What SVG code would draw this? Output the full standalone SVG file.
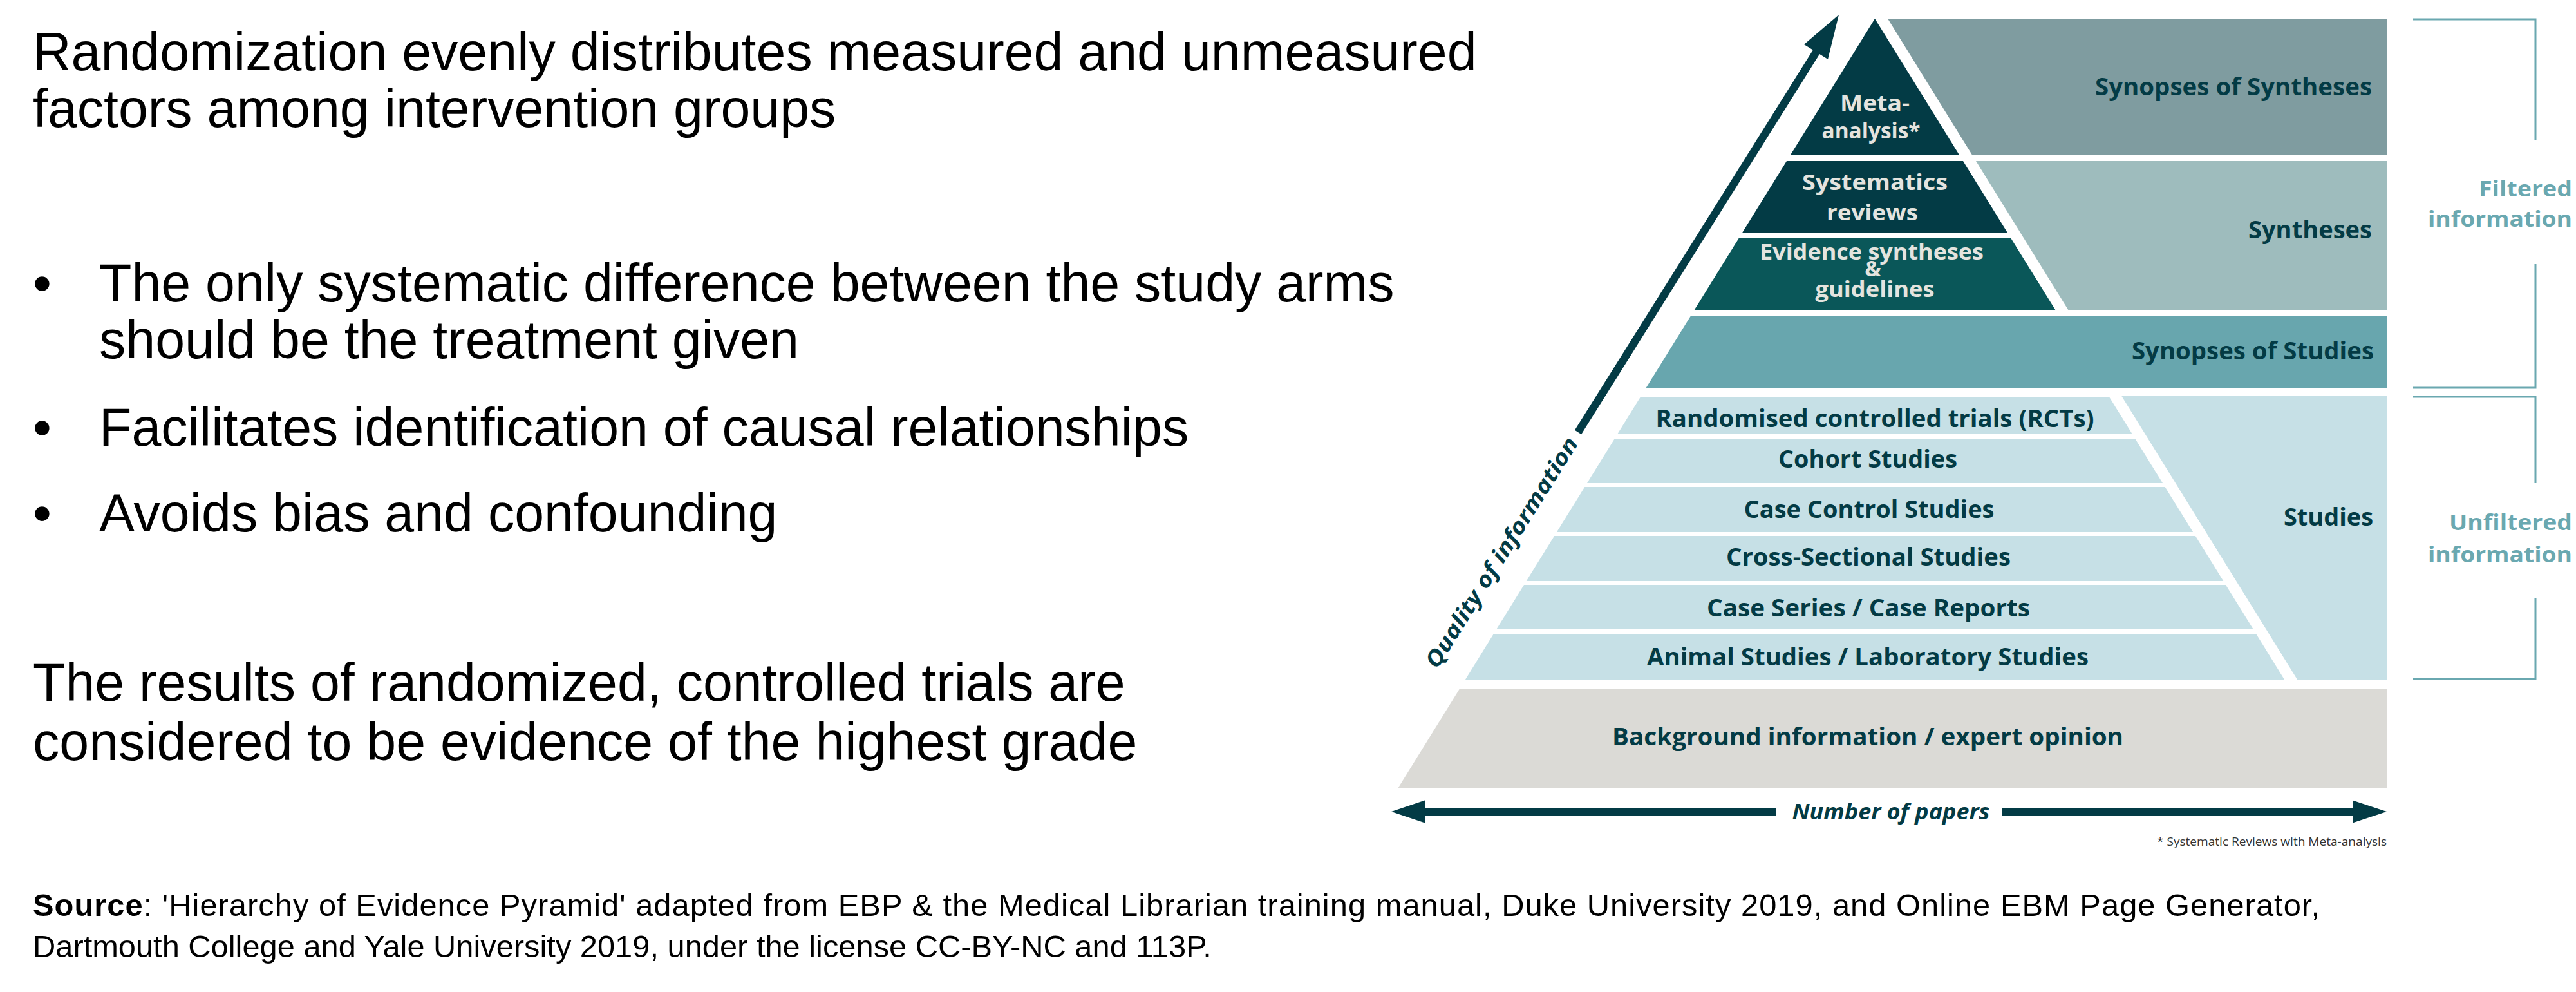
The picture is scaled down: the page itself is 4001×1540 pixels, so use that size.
<svg xmlns="http://www.w3.org/2000/svg" width="4001" height="1540" viewBox="0 0 4001 1540">
  <style>
    .body { font-family: "Liberation Sans", Arial, sans-serif; font-size: 82.5px; fill: #000; }
    .src { font-family: "Liberation Sans", Arial, sans-serif; font-size: 48.8px; fill: #000; }
    .lbl { font-family: "Open Sans", "Noto Sans", sans-serif; font-weight: 700; font-size: 37px; fill: #033b45; }
    .lbl-lt { font-family: "Open Sans", "Noto Sans", sans-serif; font-weight: 700; font-size: 34px; fill: #e4e4df; text-anchor: middle; }
    .side { font-family: "Open Sans", "Noto Sans", sans-serif; font-weight: 700; font-size: 34px; fill: #6aa8b0; text-anchor: end; }
    .axis { font-family: "Open Sans", "Noto Sans", sans-serif; font-weight: 700; font-style: italic; fill: #033b45; }
    .mid { text-anchor: middle; }
    .end { text-anchor: end; }
    .bracket { fill: none; stroke: #6aa8b0; stroke-width: 3; }
    .dark { fill: #033b45; }
  </style>

  <!-- Left-hand explanatory text -->
  <g id="intro">
    <text class="body" x="51" y="109">Randomization evenly distributes measured and unmeasured</text>
    <text class="body" x="51" y="197">factors among intervention groups</text>
  </g>
  <g id="bullets">
    <text class="body" x="51" y="468">•</text>
    <text class="body" x="154" y="468">The only systematic difference between the study arms</text>
    <text class="body" x="154" y="556">should be the treatment given</text>
    <text class="body" x="51" y="692">•</text>
    <text class="body" x="154" y="692">Facilitates identification of causal relationships</text>
    <text class="body" x="51" y="825">•</text>
    <text class="body" x="154" y="825">Avoids bias and confounding</text>
  </g>
  <g id="conclusion">
    <text class="body" x="51" y="1088">The results of randomized, controlled trials are</text>
    <text class="body" x="51" y="1180">considered to be evidence of the highest grade</text>
  </g>
  <g id="source">
    <text class="src" x="51" y="1422" textLength="3552" lengthAdjust="spacing"><tspan font-weight="700">Source</tspan>: 'Hierarchy of Evidence Pyramid' adapted from EBP &amp; the Medical Librarian training manual, Duke University 2019, and Online EBM Page Generator,</text>
    <text class="src" x="51" y="1486">Dartmouth College and Yale University 2019, under the license CC-BY-NC and 113P.</text>
  </g>

  <!-- Pyramid: filtered tiers -->
  <g id="meta-analysis">
    <polygon class="dark" points="2912,29 3043.4,241 2780.6,241"/>
    <text class="lbl-lt" x="2912" y="172" textLength="108" lengthAdjust="spacingAndGlyphs">Meta-</text>
    <text class="lbl-lt" x="2906" y="215" textLength="153" lengthAdjust="spacingAndGlyphs">analysis*</text>
  </g>
  <g id="synopses-of-syntheses">
    <polygon fill="#7f9ca0" points="2932,29 3707,29 3707,241 3063.4,241"/>
    <text class="lbl end" x="3684" y="148" textLength="430" lengthAdjust="spacingAndGlyphs" font-size="38">Synopses of Syntheses</text>
  </g>
  <g id="systematic-reviews">
    <polygon class="dark" points="2775,250 3049,250 3117.8,361 2706.2,361"/>
    <text class="lbl-lt" x="2912" y="295" textLength="226" lengthAdjust="spacingAndGlyphs">Systematics</text>
    <text class="lbl-lt" x="2908" y="342" textLength="142" lengthAdjust="spacingAndGlyphs">reviews</text>
  </g>
  <g id="evidence-syntheses">
    <polygon fill="#0a5759" points="2700.6,370 3123.4,370 3192.9,482 2631.1,482"/>
    <text class="lbl-lt" x="2907" y="403" textLength="348" lengthAdjust="spacingAndGlyphs">Evidence syntheses</text>
    <text class="lbl-lt" x="2909" y="429" font-size="19">&amp;</text>
    <text class="lbl-lt" x="2912" y="461" textLength="185" lengthAdjust="spacingAndGlyphs">guidelines</text>
  </g>
  <g id="syntheses">
    <polygon fill="#9ebcbd" points="3069,250 3707,250 3707,482 3212.9,482"/>
    <text class="lbl end" x="3684" y="370" textLength="192" lengthAdjust="spacingAndGlyphs" font-size="38">Syntheses</text>
  </g>
  <g id="synopses-of-studies">
    <polygon fill="#68a6ae" points="2625.6,491 3707,491 3707,602 2556.7,602"/>
    <text class="lbl end" x="3687" y="558" textLength="376" lengthAdjust="spacingAndGlyphs" font-size="38">Synopses of Studies</text>
  </g>

  <!-- Pyramid: unfiltered tiers -->
  <g id="rcts">
    <polygon fill="#c6e0e6" points="2548.1,616 3275.9,616 3311.9,674 2512.1,674"/>
    <text class="lbl mid" x="2912" y="663" textLength="681" lengthAdjust="spacingAndGlyphs">Randomised controlled trials (RCTs)</text>
  </g>
  <g id="cohort">
    <polygon fill="#c6e0e6" points="2507.8,681 3316.2,681 3359,750 2465,750"/>
    <text class="lbl mid" x="2901" y="726" textLength="278" lengthAdjust="spacingAndGlyphs">Cohort Studies</text>
  </g>
  <g id="case-control">
    <polygon fill="#c6e0e6" points="2461.3,756 3362.7,756 3406.1,826 2417.9,826"/>
    <text class="lbl mid" x="2903" y="804" textLength="389" lengthAdjust="spacingAndGlyphs">Case Control Studies</text>
  </g>
  <g id="cross-sectional">
    <polygon fill="#c6e0e6" points="2414.1,832 3409.9,832 3453.3,902 2370.7,902"/>
    <text class="lbl mid" x="2902" y="878" textLength="442" lengthAdjust="spacingAndGlyphs">Cross-Sectional Studies</text>
  </g>
  <g id="case-series">
    <polygon fill="#c6e0e6" points="2367,908 3457,908 3499.8,977 2324.2,977"/>
    <text class="lbl mid" x="2902" y="957" textLength="502" lengthAdjust="spacingAndGlyphs">Case Series / Case Reports</text>
  </g>
  <g id="animal-lab">
    <polygon fill="#c6e0e6" points="2319.9,984 3504.1,984 3548.7,1056 2275.3,1056"/>
    <text class="lbl mid" x="2901" y="1033" textLength="686" lengthAdjust="spacingAndGlyphs">Animal Studies / Laboratory Studies</text>
  </g>
  <g id="studies">
    <polygon fill="#c6e0e6" points="3295.3,615 3707,615 3707,1055 3568.1,1055"/>
    <text class="lbl end" x="3686" y="816" textLength="139" lengthAdjust="spacingAndGlyphs" font-size="38">Studies</text>
  </g>
  <g id="background">
    <polygon fill="#dbdad6" points="2267.2,1069 3707,1069 3707,1223 2171.7,1223"/>
    <text class="lbl mid" x="2901" y="1157" textLength="794" lengthAdjust="spacingAndGlyphs" font-size="38">Background information / expert opinion</text>
  </g>

  <!-- Side brackets -->
  <g id="filtered">
    <path class="bracket" d="M3748,30 H3938 V217 M3938,410 V602 H3748"/>
    <text class="side" x="3995" y="305" textLength="145" lengthAdjust="spacingAndGlyphs">Filtered</text>
    <text class="side" x="3995" y="352" textLength="224" lengthAdjust="spacingAndGlyphs">information</text>
  </g>
  <g id="unfiltered">
    <path class="bracket" d="M3748,616 H3938 V750 M3938,928 V1054 H3748"/>
    <text class="side" x="3995" y="823" textLength="191" lengthAdjust="spacingAndGlyphs">Unfiltered</text>
    <text class="side" x="3995" y="873" textLength="224" lengthAdjust="spacingAndGlyphs">information</text>
  </g>

  <!-- Axes -->
  <g id="connectors">
    <line x1="2451" y1="671" x2="2824" y2="76" stroke="#033b45" stroke-width="12"/>
    <polygon class="dark" points="2856,23 2839,92 2802,69"/>
    <line x1="2210" y1="1260" x2="2758" y2="1260" stroke="#033b45" stroke-width="12"/>
    <polygon class="dark" points="2161,1260 2213,1242.5 2213,1277.5"/>
    <line x1="3110" y1="1260" x2="3657" y2="1260" stroke="#033b45" stroke-width="12"/>
    <polygon class="dark" points="3707,1260 3654,1242.5 3654,1277.5"/>
  </g>
  <g id="axis-labels">
    <text class="axis mid" transform="translate(2333,858) rotate(-58)" x="0" y="11" font-size="34" textLength="415" lengthAdjust="spacingAndGlyphs">Quality of information</text>
    <text class="axis mid" x="2937" y="1272" font-size="34" textLength="307" lengthAdjust="spacingAndGlyphs">Number of papers</text>
    <text x="3707" y="1313" text-anchor="end" font-family="'Open Sans', 'Noto Sans', sans-serif" font-size="19" fill="#333" textLength="357" lengthAdjust="spacingAndGlyphs">* Systematic Reviews with Meta-analysis</text>
  </g>
</svg>
